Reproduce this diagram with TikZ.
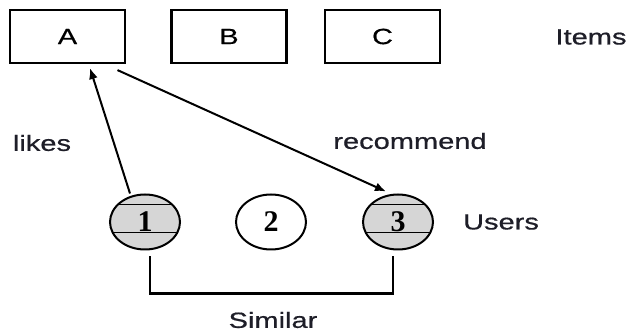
\documentclass[tikz,border=0pt]{standalone}
\usepackage{fontspec}
\usepackage{tikz}
\usetikzlibrary{arrows.meta,calc,shapes.geometric}
\newfontfamily\labelfont[FakeStretch=1.32,FakeBold=0.6]{Liberation Sans}
\newfontfamily\numfont{Liberation Serif}
\definecolor{usergray}{HTML}{D6D6D6}
\definecolor{labelink}{HTML}{1E1E28}
\tikzset{
  itembox/.style={draw,line width=2.2pt,minimum width=115pt,minimum height=53pt,inner sep=0pt,
    font=\labelfont\fontsize{22}{24}\selectfont},
  usernode/.style={draw,ellipse,line width=2pt,minimum width=70pt,minimum height=55pt,inner sep=0pt,
    font=\numfont\bfseries\fontsize{30}{32}\selectfont},
  likeduser/.style={usernode,fill=usergray,
    path picture={
      \draw[line width=1.6pt] ($(path picture bounding box.north west)+(0pt,-10pt)$) -- ($(path picture bounding box.north east)+(0pt,-10pt)$);
      \draw[line width=1.6pt] ($(path picture bounding box.north west)+(0pt,-38pt)$) -- ($(path picture bounding box.north east)+(0pt,-38pt)$);
    }},
  tag/.style={text=labelink,font=\labelfont\fontsize{22}{24}\selectfont},
  arr/.style={line width=2pt,-{Latex[length=11pt,width=9pt]}},
  bracket/.style={line width=2.2pt}
}
\begin{document}
\begin{tikzpicture}[x=1pt,y=-1pt]
\useasboundingbox[fill=white] (0,0) rectangle (632,336);
\node[itembox] (a) at (67.5,36.5) {A};
\node[itembox] (b) at (229,36.5) {B};
\node[itembox] (c) at (382.5,36.5) {C};
\node[tag] (items) at (591,37) {Items};
\node[likeduser] (u1) at (145,222) {1};
\node[usernode] (u2) at (271,222) {2};
\node[likeduser] (u3) at (398,222) {3};
\node[tag] (users) at (501,222) {Users};
\node[tag] (likes) at (42,143) {likes};
\node[tag] (recommend) at (410,141) {recommend};
\node[tag] (similar) at (273,320) {Similar};
\draw[arr] ([xshift=-15pt]u1.north) -- ([xshift=22.5pt,yshift=-4pt]a.south);
\draw[arr] ([xshift=50pt,yshift=-6pt]a.south) -- ([xshift=-12pt,yshift=2pt]u3.north);
\draw[bracket] ([shift={(5pt,-6pt)}]u1.south) -- ++(0pt,-37pt) -| ([shift={(-5pt,-6pt)}]u3.south);
\end{tikzpicture}
\end{document}
